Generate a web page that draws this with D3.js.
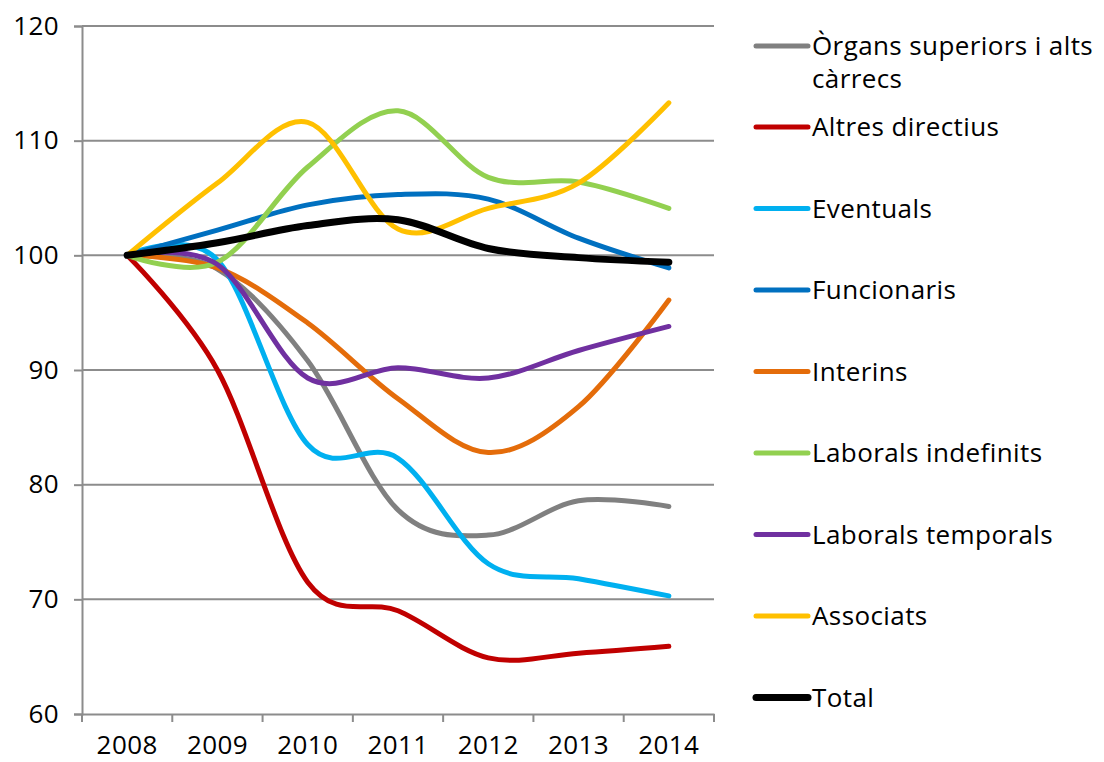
<!DOCTYPE html>
<html>
<head>
<meta charset="utf-8">
<script src="https://cdn.jsdelivr.net/npm/d3@7"></script>
<style>
  body { margin: 0; background: #fff; }
  svg text { font-family: "Open Sans", "DejaVu Sans", sans-serif; fill: #000; }
</style>
</head>
<body>
<svg id="chart"></svg>
<script>
const width = 1104;
const height = 762;

// data
const years = ["2008", "2009", "2010", "2011", "2012", "2013", "2014"];
const seriesNames = [
  "Òrgans superiors i alts càrrecs",
  "Altres directius",
  "Eventuals",
  "Funcionaris",
  "Interins",
  "Laborals indefinits",
  "Laborals temporals",
  "Associats",
  "Total"
];
const organs      = [100, 98.8, 90.8, 77.8, 75.6, 78.6, 78.1];
const altres      = [100, 90.0, 71.5, 69.0, 64.9, 65.3, 65.9];
const eventuals   = [100, 99.6, 83.5, 82.3, 73.1, 71.8, 70.3];
const funcionaris = [100, 102.2, 104.4, 105.3, 104.9, 101.5, 98.9];
const interins    = [100, 98.9, 94.1, 87.5, 82.8, 86.8, 96.1];
const indefinits  = [100, 99.4, 107.7, 112.6, 106.8, 106.4, 104.1];
const temporals   = [100, 99.2, 89.3, 90.2, 89.3, 91.7, 93.8];
const associats   = [100, 106.3, 111.6, 102.3, 104.1, 106.3, 113.3];
const total       = [100, 101.1, 102.6, 103.1, 100.6, 99.8, 99.4];
const yTicks = [60, 70, 80, 90, 100, 110, 120];

const colors = ["#808080", "#C00000", "#00B0F0", "#0070C0", "#E46C0A",
                "#92D050", "#7030A0", "#FFC000", "#000000"];
const allValues = [organs, altres, eventuals, funcionaris, interins,
                   indefinits, temporals, associats, total];

const series = seriesNames.map((name, i) => ({
  name: name,
  values: allValues[i],
  color: colors[i],
  total: name === "Total"
}));

const plot = { left: 82, right: 714, top: 26, bottom: 714 };
const fontSize = "26px";

const svg = d3.select("#chart")
  .attr("width", width)
  .attr("height", height);

const x = d3.scaleBand()
  .domain(years)
  .range([plot.left, plot.right]);

const y = d3.scaleLinear()
  .domain([60, 120])
  .range([plot.bottom, plot.top]);

/* gridlines */
svg.append("g")
  .selectAll("line")
  .data(yTicks.filter(t => t > 60))
  .enter()
  .append("line")
  .attr("x1", plot.left)
  .attr("x2", plot.right)
  .attr("y1", d => y(d))
  .attr("y2", d => y(d))
  .attr("stroke", "#8c8c8c")
  .attr("stroke-width", 2);

/* y axis */
const yAxis = svg.append("g")
  .attr("transform", `translate(${plot.left},0)`)
  .call(d3.axisLeft(y).tickValues(yTicks).tickSize(8).tickPadding(15));

/* x axis: ticks between categories */
const xAxis = svg.append("g")
  .attr("transform", `translate(0,${plot.bottom})`)
  .call(d3.axisBottom(x).tickSize(0).tickPadding(22));

xAxis.selectAll(".tick line").remove();
xAxis.append("g")
  .selectAll("line")
  .data(d3.range(years.length + 1))
  .enter()
  .append("line")
  .attr("x1", i => plot.left + i * x.step())
  .attr("x2", i => plot.left + i * x.step())
  .attr("y1", 0)
  .attr("y2", 8)
  .attr("stroke", "#8c8c8c")
  .attr("stroke-width", 2);

[yAxis, xAxis].forEach(g => {
  g.select(".domain").attr("stroke", "#8c8c8c").attr("stroke-width", 2);
  g.selectAll(".tick line").attr("stroke", "#8c8c8c").attr("stroke-width", 2);
  g.selectAll("text")
    .style("font-family", "'Open Sans', 'DejaVu Sans', sans-serif")
    .style("font-size", fontSize)
    .style("letter-spacing", "0.4px")
    .attr("fill", "#000");
});

/* lines */
const line = d3.line()
  .x((d, i) => x(years[i]) + x.bandwidth() / 2)
  .y(d => y(d))
  .curve(d3.curveCardinal.tension(0));

svg.append("g")
  .selectAll("path")
  .data(series)
  .enter()
  .append("path")
  .attr("d", d => line(d.values))
  .attr("fill", "none")
  .attr("stroke", d => d.color)
  .attr("stroke-width", d => d.total ? 7 : 5)
  .attr("stroke-linecap", "round")
  .attr("stroke-linejoin", "round");

/* legend */
const legendTop = 46;

const legend = svg.append("g")
  .selectAll("g")
  .data(series)
  .enter()
  .append("g")
  .attr("transform", (d, i) => `translate(756,${i === 0 ? legendTop : legendTop + 81 + (i - 1) * 81.5})`);

legend.append("line")
  .attr("x1", 0)
  .attr("x2", 52)
  .attr("stroke", d => d.color)
  .attr("stroke-width", d => d.total ? 7 : 5)
  .attr("stroke-linecap", "round");

legend.append("text")
  .attr("x", 56)
  .attr("dy", "0.36em")
  .style("font-size", fontSize)
  .style("letter-spacing", "0.4px")
  .each(function(d) {
    const t = d3.select(this);
    if (d.name.startsWith("Òrgans")) {
      t.append("tspan").attr("x", 56).text("Òrgans superiors i alts");
      t.append("tspan").attr("x", 56).attr("dy", "33px").text("càrrecs");
    } else {
      t.text(d.name);
    }
  });
</script>
</body>
</html>
